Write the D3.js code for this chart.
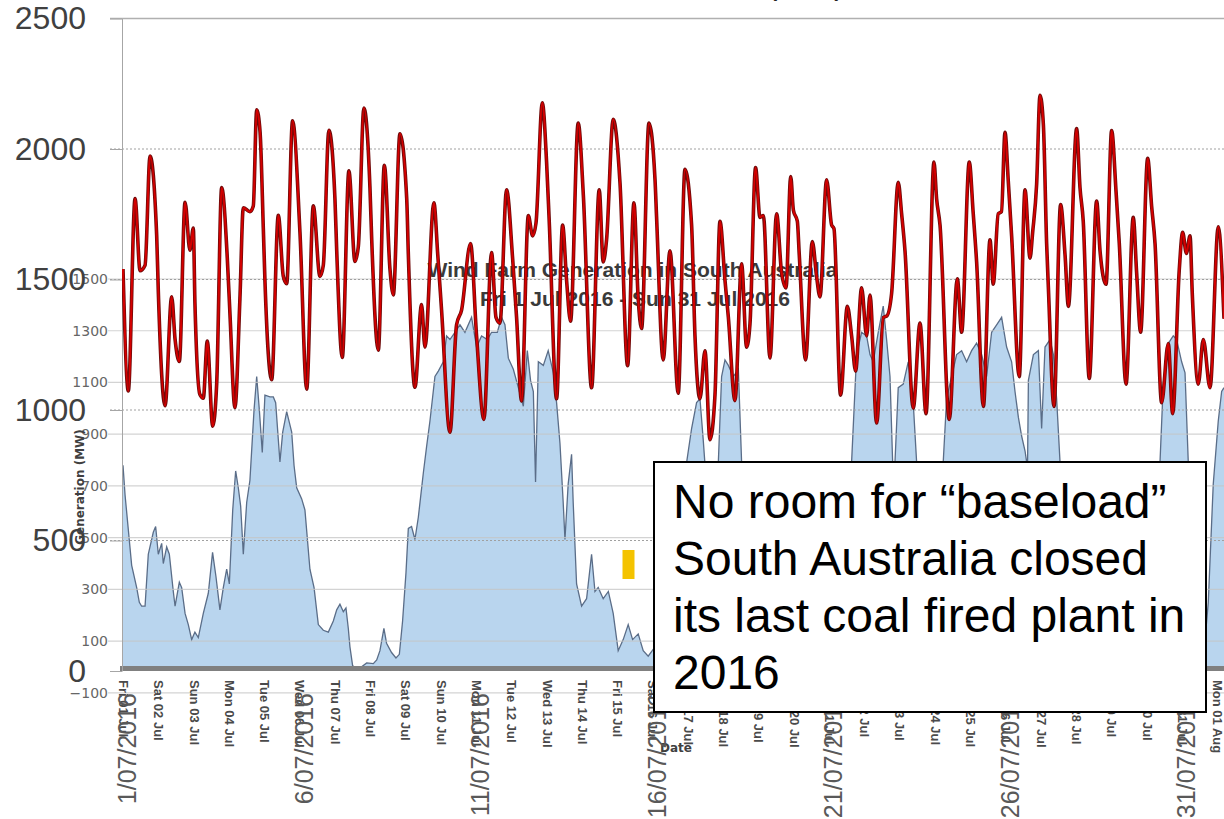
<!DOCTYPE html>
<html><head><meta charset="utf-8">
<script src="https://cdn.jsdelivr.net/npm/d3@7"></script>
<style>body{margin:0;background:#fff;overflow:hidden}svg{display:block}</style>
</head><body>
<svg id="c" width="1224" height="819"></svg>
<script>
// ---------- data ----------
const mainYTicks = [0, 500, 1000, 1500, 2000, 2500];
const windYTicks = [-100, 100, 300, 500, 700, 900, 1100, 1300, 1500];
const dateTickDays = [1, 6, 11, 16, 21, 26, 31];
const chartTitle = "(MW)";
const windTitle = ["Wind Farm Generation in South Australia", "Fri 1 Jul 2016  -  Sun 31 Jul 2016"];
const windYLabel = "Generation (MW)";
const windXLabel = "Date";
const noteLines = ["No room for \u201Cbaseload\u201D", "South Australia closed", "its last coal fired plant in", "2016"];

// demand (hours from 1 Jul 2016 00:00, MW)
const demandHours = [0,3.6,8.2,11.6,15.0,18.4,22.9,24.0,28.6,33.1,35.4,38.3,42.2,45.5,47.8,48.9,52.3,54.6,57.3,61.0,63.7,67.1,70.9,72.7,76.1,79.5,81.8,86.3,88.6,90.9,93.2,95.4,96.5,101.1,105.6,109.0,111.3,115.3,120.3,124.9,129.4,133.9,136.2,140.0,144.1,145.3,149.1,153.6,157.7,160.0,163.8,167.9,169.1,173.6,177.7,181.5,183.8,188.3,192.9,194.0,198.5,203.0,205.3,211.4,214.0,216.6,222.3,226.8,230.2,236.3,240.4,245.4,250.6,253.6,256.3,260.8,264.9,267.6,271.0,275.6,278.5,280.8,285.1,288.0,289.8,294.8,298.9,301.6,304.3,309.5,313.0,318.6,323.8,326.5,328.8,333.3,337.9,343.1,347.4,350.3,352.6,357.6,361.7,362.8,367.3,371.9,377.5,382.1,386.6,388.9,392.3,395.7,399.1,402.5,405.9,409.3,411.6,416.1,420.6,424.0,426.3,430.1,433.1,435.4,439.9,444.4,447.8,450.8,454.0,455.8,458.5,459.8,464.1,468.7,471.6,473.9,478.4,481.8,483.4,487.9,492.5,495.4,498.1,502.2,505.6,507.9,512.4,517.0,519.3,522.6,527.1,529.4,531.7,537.3,541.9,546.0,551.4,553.2,555.5,561.8,567.3,570.2,575.4,578.1,580.4,585.0,589.5,591.7,595.1,597.3,599.7,601.9,604.2,609.4,613.3,616.7,618.5,621.2,623.5,625.8,628.0,629.2,633.0,637.5,640.5,642.8,648.4,650.7,652.9,657.0,662.0,664.3,668.4,672.2,675.2,677.4,682.0,686.9,689.2,691.9,696.7,699.4,701.7,706.2,710.7,713.7,718.2,720.5,723.0,725.5,727.0,731.1,734.5,739.1,744.7,748.6];
const demandMW = [1540,1073,1810,1534,1555,1973,1668,1456,1016,1434,1271,1186,1796,1612,1697,1413,1059,1045,1264,938,1101,1852,1583,1371,1009,1427,1775,1760,1782,2150,2065,1697,1498,1116,1746,1512,1484,2108,1683,1080,1782,1512,1555,2072,1810,1612,1201,1916,1569,1626,2157,1853,1654,1229,1938,1541,1441,2058,1810,1598,1087,1404,1241,1794,1596,1383,915,1326,1383,1638,1284,964,1603,1355,1333,1844,1582,1355,1035,1745,1667,1716,2177,1950,1723,1043,1709,1497,1340,2099,1823,1085,1844,1567,1653,2114,1872,1170,1794,1426,1312,2099,1886,1738,1192,1610,1064,1922,1709,1284,1043,1227,886,1057,1723,1497,1355,1036,1560,1241,1330,1929,1738,1745,1199,1752,1525,1468,1894,1766,1723,1596,1192,1645,1511,1433,1882,1709,1695,1057,1397,1284,1149,1468,1284,1440,950,1355,1360,1447,1872,1752,1610,1007,1333,986,1950,1809,1709,964,1503,1298,1950,1752,1567,1014,1652,1482,1752,1760,2064,1879,1667,1128,1844,1582,1681,1865,2206,2092,1638,1468,1014,1787,1596,1397,2078,1851,1723,1121,1801,1610,1482,2071,1837,1638,1099,1738,1525,1298,1964,1780,1638,1028,1255,986,1539,1681,1600,1667,1450,1099,1270,1085,1702,1350];

// wind farm generation (hours from 1 Jul 2016 00:00, MW)
const windHours = [0,1.4,5.9,9.3,11.1,12.7,15.0,17.2,20.6,22.2,24.0,26.3,27.4,29.7,31.5,34.2,35.4,38.3,39.9,42.2,44.4,46.7,48.9,51.2,54.6,58.0,60.9,63.2,65.9,68.2,70.5,72.3,74.6,76.6,78.4,80.0,81.8,84.1,86.3,89.1,90.9,92.7,94.7,96.5,99.9,102.2,103.8,106.7,108.6,111.3,114.7,116.3,118.1,121.5,123.7,127.1,129.9,132.8,136.2,139.6,143.0,145.3,147.5,149.8,151.6,153.2,154.3,156.1,157.0,162.0,165.7,170.2,172.5,174.7,177.4,179.2,182.6,185.6,187.9,190.1,192.4,194.0,196.2,198.5,200.8,204.2,206.4,208.7,212.1,214.4,217.8,220.0,222.3,225.7,229.1,232.5,237.0,240.4,243.8,247.7,250.6,254.5,257.4,259.7,262.0,265.4,268.8,272.2,274.9,277.1,279.0,280.5,282.4,285.8,289.1,292.6,294.8,297.1,299.3,300.5,302.7,305.0,306.1,308.4,311.8,315.2,318.6,320.9,323.1,326.5,330.0,333.3,336.7,340.1,343.5,346.5,350.3,353.7,357.1,362,370,378,383.2,386.6,390.0,392.3,394.5,396.0,401.0,404.8,407.0,409.3,411.6,415.0,418.4,420.6,430,445,465,482,493,495.4,498.8,502.2,505.6,507.9,510.1,513.5,516.9,519.2,521.5,523.3,524.1,524.9,527.1,530.5,533.9,537.3,539.6,546,553,557.7,560.0,563.4,566.8,570.2,573.6,577.0,580.4,583.8,587.2,590.6,594.0,597.4,600.8,604.2,606.5,608.8,611.0,613.3,614.4,615.0,615.6,619.0,622.4,624.6,626.9,630.3,632.6,634.8,637.1,645,660,680,697,703,705.1,707.3,710.7,714.1,716.4,719.8,722.1,724.3,728,733,736.4,737.9,741.3,744.7,747.0,748.6];
const windMW = [780,665,393,307,250,235,235,436,521,543,436,478,400,464,436,292,235,328,307,207,164,106,135,114,207,285,443,350,221,307,378,321,607,758,693,622,436,636,722,994,1123,994,829,1051,1044,1044,1022,793,908,987,908,779,693,650,607,378,307,164,142,135,178,221,243,214,228,149,78,6,0,0,16,13,27,63,149,92,56,35,49,178,364,536,543,493,579,750,851,951,1123,1144,1180,1280,1266,1294,1323,1294,1352,1237,1280,1266,1294,1294,1352,1323,1194,1151,1080,1008,1223,1108,1065,715,1180,1166,1223,1137,1022,865,636,493,708,822,636,321,235,264,436,292,307,264,292,207,63,106,164,106,128,63,42,80,300,600,790,922,1022,1037,879,760,700,793,1123,1187,1166,1123,1151,793,500,300,250,400,700,793,1208,1294,1280,1208,1180,1294,1395,1266,1123,793,700,793,1080,1094,1180,1022,793,550,700,793,1037,1123,1208,1223,1180,1223,1252,1208,1123,1294,1323,1352,1237,1180,1065,965,893,836,793,760,1108,1208,1223,922,1237,1266,1208,1037,793,500,300,250,450,700,793,1094,1251,1280,1266,1180,1137,793,450,200,150,249,708,951,1065,1080];

// ---------- scales ----------
const svg = d3.select("#c");
const t0 = new Date(Date.UTC(2016, 6, 1));
const toDate = h => new Date(t0.getTime() + h * 3600e3);
const x = d3.scaleUtc().domain([t0, toDate(748.6)]).range([123, 1224]);
const yMain = d3.scaleLinear().domain([0, 2500]).range([671, 18.5]);
const yWind = d3.scaleLinear().domain([0, 1500]).range([667, 279]);
const intFmt = d3.format("d");

const defs = svg.append("defs");
defs.append("clipPath").attr("id", "plot").append("rect").attr("x", 122).attr("y", 0).attr("width", 1102).attr("height", 700);

// ---------- wind chart (embedded) ----------
const windData = windHours.map((h, i) => ({t: toDate(h), v: windMW[i]}));
const area = d3.area().x(d => x(d.t)).y0(yWind(0)).y1(d => yWind(d.v));
const line = d3.line().x(d => x(d.t)).y(d => yWind(d.v));
const gw = svg.append("g").attr("clip-path", "url(#plot)");
gw.append("path").datum(windData).attr("d", area).attr("fill", "#b9d5ee");
gw.append("path").datum(windData).attr("d", line).attr("fill", "none").attr("stroke", "#5a6d88").attr("stroke-width", 1.3);

// wind gridlines
svg.append("g").selectAll("line").data(windYTicks).join("line")
  .attr("x1", 108).attr("x2", 1224)
  .attr("y1", d => yWind(d)).attr("y2", d => yWind(d))
  .attr("stroke", "#c4c4c4").attr("stroke-opacity", 0.75).attr("stroke-width", 1.2);

// wind baseline band
svg.append("line").attr("x1", 120).attr("x2", 1224).attr("y1", yWind(0) + 1.5).attr("y2", yWind(0) + 1.5)
  .attr("stroke", "#808080").attr("stroke-width", 5);

// wind y axis labels
const wyAxis = d3.axisLeft(yWind).tickValues(windYTicks).tickFormat(intFmt).tickSize(0).tickPadding(14);
const gwy = svg.append("g").attr("transform", "translate(122,0)").call(wyAxis);
gwy.select(".domain").remove();
gwy.selectAll("text").attr("font-family", "DejaVu Sans").attr("font-size", 14).attr("fill", "#666");

// wind x axis day labels
const days = d3.utcDay.range(t0, new Date(Date.UTC(2016, 7, 2)));
const wxAxis = d3.axisBottom(x).tickValues(days).tickFormat(d3.utcFormat("%a %d %b")).tickSize(0);
const gwx = svg.append("g").call(wxAxis);
gwx.select(".domain").remove();
gwx.selectAll("text").attr("transform", "translate(0,680) rotate(90)").attr("x", 0).attr("y", 0).attr("dy", "0.35em")
  .attr("text-anchor", "start").attr("font-family", "Liberation Sans").attr("font-weight", "bold")
  .attr("font-size", 13).attr("fill", "#4a4a4a");

svg.append("text").text(windYLabel).attr("transform", "translate(80,487) rotate(-90)").attr("dy", "0.35em")
  .attr("text-anchor", "middle").attr("font-family", "DejaVu Sans").attr("font-weight", "bold").attr("font-size", 12).attr("fill", "#404040");
svg.append("text").text(windXLabel).attr("x", 676).attr("y", 752).attr("text-anchor", "middle")
  .attr("font-family", "DejaVu Sans").attr("font-weight", "bold").attr("font-size", 12).attr("fill", "#404040");

// wind title
svg.selectAll(".wt").data(windTitle).join("text").attr("class", "wt").text(d => d)
  .attr("x", (d, i) => i ? 635 : 632.5).attr("y", (d, i) => i ? 306 : 277).attr("text-anchor", "middle")
  .attr("font-family", "Liberation Sans").attr("font-weight", "bold").attr("font-size", 21).attr("fill", "#3a3a3a")
  .attr("textLength", (d, i) => i ? 310 : 410).attr("lengthAdjust", "spacingAndGlyphs");

// legend swatch
svg.append("rect").attr("x", 622.5).attr("y", 550).attr("width", 12).attr("height", 29).attr("fill", "#f4c300");

// ---------- main chart ----------
svg.append("g").selectAll("line").data(mainYTicks.filter(d => d > 0)).join("line")
  .attr("x1", 110).attr("x2", 1224).attr("y1", d => yMain(d)).attr("y2", d => yMain(d))
  .attr("stroke", d => d === 2500 ? "#b0b0b0" : "#a0a0a0").attr("stroke-width", d => d === 2500 ? 1.5 : 1)
  .attr("stroke-dasharray", d => d === 2500 ? null : "2,2");

const yAx = d3.axisLeft(yMain).tickValues(mainYTicks).tickFormat(intFmt).tickSizeInner(12).tickSizeOuter(0).tickPadding(24);
const gy = svg.append("g").attr("transform", "translate(122,0)").call(yAx);
gy.select(".domain").attr("stroke", "#a6a6a6");
gy.selectAll(".tick line").attr("stroke", "#a6a6a6");
gy.selectAll("text").attr("font-family", "Liberation Sans").attr("font-size", 32).attr("fill", "#404040");

const xAx = d3.axisBottom(x).tickValues(dateTickDays.map(d => new Date(Date.UTC(2016, 6, d))))
  .tickFormat(d3.utcFormat("%-d/%m/%Y")).tickSize(0);
const gx = svg.append("g").call(xAx);
gx.select(".domain").remove();
gx.selectAll("text").attr("transform", "translate(4,693) rotate(-90)").attr("x", 0).attr("y", 0).attr("dy", "0.35em")
  .attr("text-anchor", "end").attr("font-family", "Liberation Sans").attr("font-size", 25).attr("fill", "#595959");

// title (cut at the top edge)
svg.append("text").text(chartTitle).attr("x", 845).attr("y", -6).attr("text-anchor", "end")
  .attr("font-family", "Liberation Sans").attr("font-size", 32).attr("fill", "#222");

// demand line
const demandData = demandHours.map((h, i) => ({t: toDate(h), v: demandMW[i]}));
const dLine = d3.line().x(d => x(d.t)).y(d => yMain(d.v)).curve(d3.curveMonotoneX);
const gd = svg.append("g").attr("clip-path", "url(#plot)");
gd.append("path").datum(demandData).attr("d", dLine).attr("fill", "none").attr("stroke", "#6e0a0a").attr("stroke-width", 3.6).attr("stroke-linejoin", "round");
gd.append("path").datum(demandData).attr("d", dLine).attr("fill", "none").attr("stroke", "#d40000").attr("stroke-width", 2).attr("stroke-linejoin", "round");

// note box
svg.append("rect").attr("x", 654).attr("y", 462).attr("width", 552).attr("height", 250)
  .attr("fill", "#fff").attr("stroke", "#000").attr("stroke-width", 2);
svg.selectAll(".note").data(noteLines).join("text").attr("class", "note").text(d => d)
  .attr("x", 673).attr("y", (d, i) => 518 + i * 57)
  .attr("font-family", "Liberation Sans, Arial").attr("font-size", 48).attr("fill", "#000");
</script>
</body></html>
